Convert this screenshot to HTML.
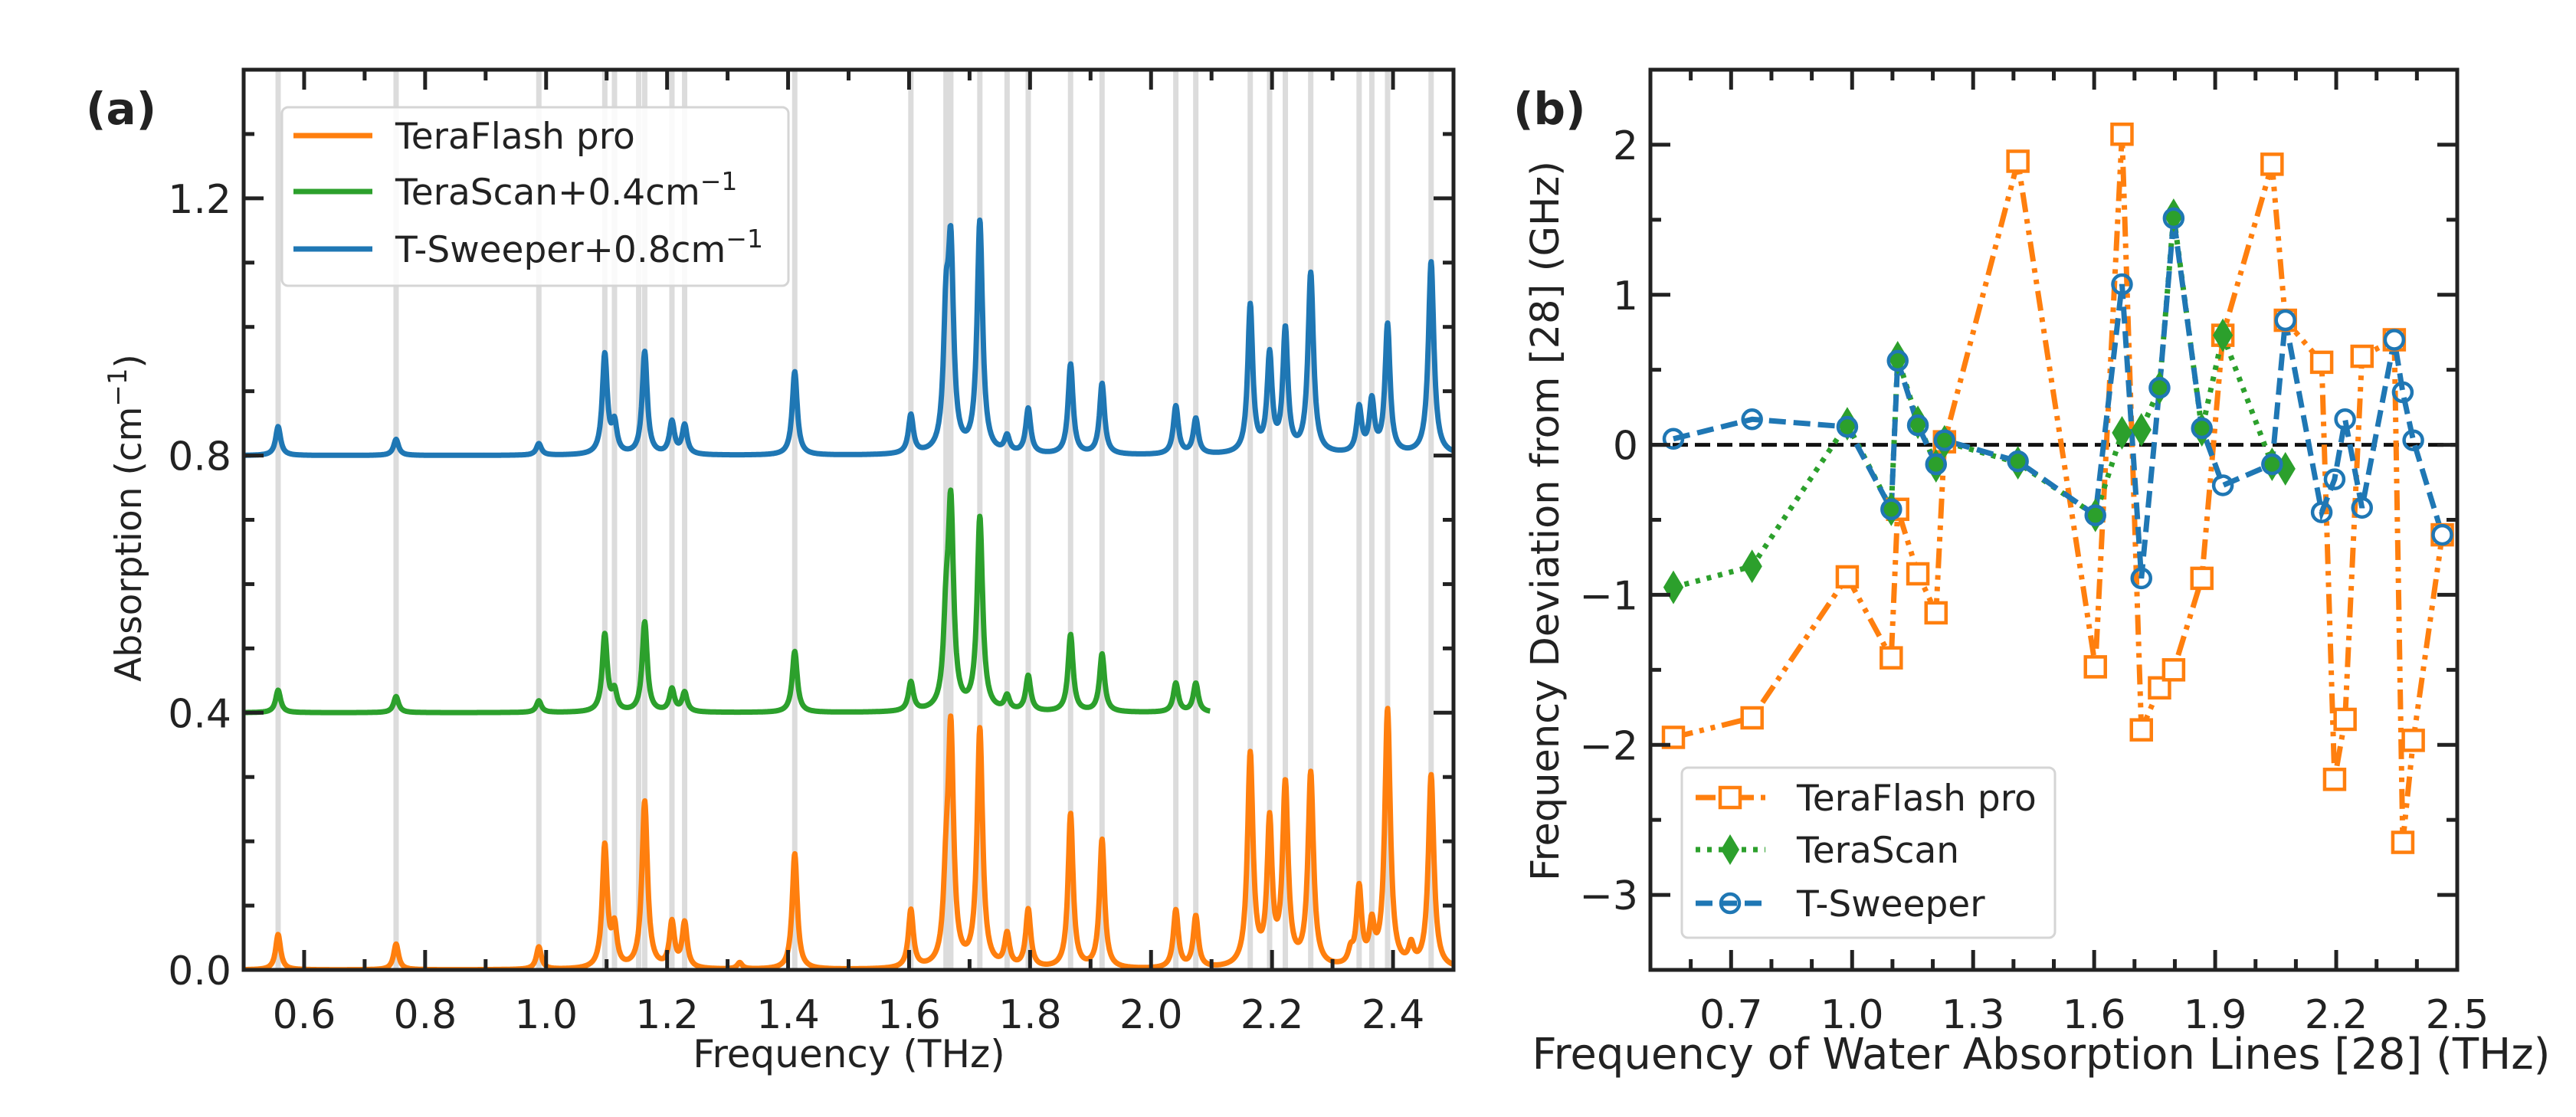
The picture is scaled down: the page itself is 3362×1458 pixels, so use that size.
<!DOCTYPE html>
<html><head><meta charset="utf-8">
<style>
html,body{margin:0;padding:0;background:#fff;}
svg{display:block;font-family:"DejaVu Sans","Liberation Sans",sans-serif;}
</style></head>
<body>
<svg id="fig" width="3362" height="1458" viewBox="0 0 3362 1458" xmlns="http://www.w3.org/2000/svg">
<rect width="3362" height="1458" fill="#fff"/>
<g id="pa"></g>
<g id="pb"></g>
</svg>
<script>
// ---------- Panel (a) data ----------
const waterLines = [0.557,0.752,0.988,1.097,1.113,1.153,1.163,1.208,1.229,1.411,1.603,1.661,1.669,1.717,1.762,1.797,1.867,1.919,2.041,2.074,2.164,2.196,2.222,2.264,2.344,2.365,2.391,2.463];
const tfPeakFreqs = [0.557,0.752,0.988,1.097,1.113,1.163,1.208,1.229,1.32,1.411,1.603,1.661,1.669,1.717,1.762,1.797,1.867,1.919,2.041,2.074,2.164,2.196,2.222,2.264,2.33,2.344,2.365,2.391,2.43,2.463];
const tfPeakHeights = [0.055,0.04,0.035,0.19,0.06,0.26,0.07,0.07,0.01,0.18,0.09,0.1,0.36,0.37,0.05,0.09,0.24,0.2,0.09,0.08,0.33,0.22,0.28,0.3,0.02,0.12,0.06,0.4,0.03,0.3];
const tsPeakFreqs = [0.557,0.752,0.988,1.097,1.113,1.163,1.208,1.229,1.411,1.603,1.661,1.669,1.717,1.762,1.797,1.867,1.919,2.041,2.074];
const tsPeakHeights = [0.035,0.025,0.018,0.12,0.03,0.14,0.035,0.03,0.095,0.045,0.11,0.31,0.3,0.022,0.055,0.12,0.09,0.045,0.045];
const swPeakFreqs = [0.557,0.752,0.988,1.097,1.113,1.163,1.208,1.229,1.411,1.603,1.661,1.669,1.717,1.762,1.797,1.867,1.919,2.041,2.074,2.164,2.196,2.222,2.264,2.344,2.365,2.391,2.463];
const swPeakHeights = [0.045,0.025,0.018,0.155,0.045,0.16,0.05,0.045,0.13,0.06,0.18,0.3,0.36,0.025,0.07,0.14,0.11,0.075,0.055,0.23,0.15,0.19,0.28,0.07,0.08,0.2,0.3];
const offsetsA = [0, 0.4, 0.8];
const tsEnd = 2.098;
const xTicksA = ["0.6","0.8","1.0","1.2","1.4","1.6","1.8","2.0","2.2","2.4"];
const yTicksA = ["0.0","0.4","0.8","1.2"];

// ---------- Panel (b) data ----------
const linesB = [0.557,0.752,0.988,1.097,1.113,1.163,1.208,1.229,1.411,1.603,1.669,1.717,1.762,1.797,1.867,1.919,2.041,2.074,2.164,2.196,2.222,2.264,2.344,2.365,2.391,2.463];
const tfDev = [-1.95,-1.82,-0.88,-1.42,-0.43,-0.86,-1.12,0.02,1.89,-1.48,2.07,-1.90,-1.62,-1.50,-0.89,0.73,1.87,0.83,0.55,-2.23,-1.83,0.59,0.70,-2.65,-1.97,-0.60];
const tsLines = [0.557,0.752,0.988,1.097,1.113,1.163,1.208,1.229,1.411,1.603,1.669,1.717,1.762,1.797,1.867,1.919,2.041,2.074];
const tsDev = [-0.95,-0.81,0.14,-0.43,0.58,0.15,-0.14,0.02,-0.12,-0.47,0.08,0.10,0.38,1.53,0.10,0.73,-0.13,-0.16];
const swDev = [0.04,0.17,0.12,-0.43,0.56,0.13,-0.13,0.03,-0.11,-0.47,1.07,-0.89,0.38,1.51,0.11,-0.27,-0.13,0.83,-0.45,-0.23,0.17,-0.42,0.70,0.35,0.03,-0.60];
const xTicksB = ["0.7","1.0","1.3","1.6","1.9","2.2","2.5"];
const yTicksB = ["2","1","0","\u22121","\u22122","\u22123"];

const NS = "http://www.w3.org/2000/svg";
function mk(parent, tag, attrs, text){
  const e = document.createElementNS(NS, tag);
  for (const k in attrs) e.setAttribute(k, attrs[k]);
  if (text !== undefined) e.textContent = text;
  parent.appendChild(e); return e;
}
const ORANGE="#ff7f0e", GREEN="#2ca02c", BLUE="#1f77b4", INK="#222";
const FS=52, LS=47, LW=7;

// ===== Panel A =====
const A = {l:318, r:1897, t:91, b:1266, x0:0.5, x1:2.5, y0:0, y1:1.4};
const ax = v => A.l + (v-A.x0)/(A.x1-A.x0)*(A.r-A.l);
const ay = v => A.b - (v-A.y0)/(A.y1-A.y0)*(A.b-A.t);
const pa = document.getElementById('pa');
waterLines.forEach(f=>{
  const l = mk(pa,'line',{x1:ax(f),x2:ax(f),y1:A.t,y2:A.b,stroke:"#dcdcdc","stroke-width":7});
  
  
});
function spectrum(freqs, heights, off, xmax){
  let d="";
  for (let x=A.x0; x<=xmax+1e-9; x+=0.0008){
    let v=off;
    for (let i=0;i<freqs.length;i++){
      const g = heights[i]>0.25?0.0055:0.005;
      v += heights[i]*g*g/((x-freqs[i])*(x-freqs[i])+g*g);
    }
    d += (d?"L":"M")+ax(x).toFixed(1)+","+ay(v).toFixed(1);
  }
  return d;
}
const cp = mk(pa,'clipPath',{id:'clipA'}); mk(cp,'rect',{x:A.l,y:A.t,width:A.r-A.l,height:A.b-A.t});
const sg = mk(pa,'g',{'clip-path':'url(#clipA)'});
let p;
p = mk(sg,'path',{d:spectrum(swPeakFreqs,swPeakHeights,offsetsA[2],A.x1),fill:"none",stroke:BLUE,"stroke-width":LW,"stroke-linejoin":"round"});
 
p = mk(sg,'path',{d:spectrum(tsPeakFreqs,tsPeakHeights,offsetsA[1],tsEnd),fill:"none",stroke:GREEN,"stroke-width":LW,"stroke-linejoin":"round"});
 
p = mk(sg,'path',{d:spectrum(tfPeakFreqs,tfPeakHeights,offsetsA[0],A.x1),fill:"none",stroke:ORANGE,"stroke-width":LW,"stroke-linejoin":"round"});
 

function frame(g, B){
  const f = mk(g,'rect',{x:B.l,y:B.t,width:B.r-B.l,height:B.b-B.t,fill:"none",stroke:INK,"stroke-width":5});
   
}
function tickX(g,B,px,len){ mk(g,'line',{x1:px,x2:px,y1:B.b,y2:B.b-len,stroke:INK,"stroke-width":5}); mk(g,'line',{x1:px,x2:px,y1:B.t,y2:B.t+len,stroke:INK,"stroke-width":5}); }
function tickY(g,B,py,len){ mk(g,'line',{x1:B.l,x2:B.l+len,y1:py,y2:py,stroke:INK,"stroke-width":5}); mk(g,'line',{x1:B.r,x2:B.r-len,y1:py,y2:py,stroke:INK,"stroke-width":5}); }

frame(pa,A);
for (let i=0;i<=20;i++){ const v=0.5+i*0.1; tickX(pa,A,ax(v), (Math.round(v*10)%2===0)?26:14); }
for (let i=0;i<=14;i++){ const v=i*0.1; tickY(pa,A,ay(v), (i%4===0)?26:14); }
xTicksA.forEach(t=>{
  const e = mk(pa,'text',{x:ax(parseFloat(t)),y:1342,"font-size":FS,"text-anchor":"middle",fill:INK},t);
   
});
yTicksA.forEach(t=>{
  const e = mk(pa,'text',{x:302,y:ay(parseFloat(t))+19,"font-size":FS,"text-anchor":"end",fill:INK},t);
   
});
let e;
e = mk(pa,'text',{x:1108,y:1393,"font-size":50,"text-anchor":"middle",fill:INK},"Frequency (THz)");
 
e = mk(pa,'text',{x:0,y:0,"font-size":47,"text-anchor":"middle",fill:INK,transform:"translate(184,676) rotate(-90)"});
 
e.innerHTML = 'Absorption (cm<tspan dy="-19" font-size="34">\u22121</tspan><tspan dy="19">)</tspan>';
e = mk(pa,'text',{x:112,y:162,"font-size":58,"font-weight":"bold",fill:INK},"(a)");
 
// legend A
const lgA = mk(pa,'g',{});
 
mk(lgA,'rect',{x:368,y:140,width:661,height:233,rx:8,fill:"#fff","fill-opacity":0.85,stroke:"#d5d5d5","stroke-width":3});
[["TeraFlash pro",ORANGE,177,""],["TeraScan+0.4cm",GREEN,250,"\u22121"],["T-Sweeper+0.8cm",BLUE,325,"\u22121"]].forEach(r=>{
  const g = mk(lgA,'g',{});
   
  mk(g,'line',{x1:383,x2:486,y1:r[2],y2:r[2],stroke:r[1],"stroke-width":LW});
  const t = mk(g,'text',{x:516,y:r[2]+17,"font-size":LS,fill:INK});
  t.innerHTML = r[0] + (r[3]?'<tspan dy="-19" font-size="33">'+r[3]+'</tspan>':'');
});

// ===== Panel B =====
const B = {l:2154, r:3207, t:91, b:1266, x0:0.5, x1:2.5, y0:-3.5, y1:2.5};
const bx = v => B.l + (v-B.x0)/(B.x1-B.x0)*(B.r-B.l);
const by = v => B.b - (v-B.y0)/(B.y1-B.y0)*(B.b-B.t);
const pb = document.getElementById('pb');
e = mk(pb,'line',{x1:B.l,x2:B.r,y1:by(0),y2:by(0),stroke:"#111","stroke-width":5,"stroke-dasharray":"20,9"});
 
function poly(xs, ys){ return xs.map((x,i)=>(i?"L":"M")+bx(x).toFixed(1)+","+by(ys[i]).toFixed(1)).join(""); }
p = mk(pb,'path',{d:poly(linesB,tfDev),fill:"none",stroke:ORANGE,"stroke-width":LW,"stroke-dasharray":"26,9,6,9,6,9"});
 
p = mk(pb,'path',{d:poly(tsLines,tsDev),fill:"none",stroke:GREEN,"stroke-width":LW,"stroke-dasharray":"6,9"});
 
p = mk(pb,'path',{d:poly(linesB,swDev),fill:"none",stroke:BLUE,"stroke-width":LW,"stroke-dasharray":"22,10"});
 
linesB.forEach((x,i)=>{
  const m = mk(pb,'rect',{x:bx(x)-13,y:by(tfDev[i])-13,width:26,height:26,fill:"#fff",stroke:ORANGE,"stroke-width":4.5});
   
});
tsLines.forEach((x,i)=>{
  const cx=bx(x), cy=by(tsDev[i]);
  const m = mk(pb,'polygon',{points:`${cx},${cy-20} ${cx+12},${cy} ${cx},${cy+20} ${cx-12},${cy}`,fill:GREEN,stroke:GREEN,"stroke-width":2});
   
});
linesB.forEach((x,i)=>{
  const m = mk(pb,'circle',{cx:bx(x),cy:by(swDev[i]),r:12,fill:"none",stroke:BLUE,"stroke-width":4.5});
   
});
frame(pb,B);
for (let i=0;i<=20;i++){ const v=0.5+i*0.1; tickX(pb,B,bx(v), ((i-2)%3===0)?26:14); }
for (let i=0;i<=12;i++){ const v=-3.5+i*0.5; tickY(pb,B,by(v), (i%2===1)?26:14); }
xTicksB.forEach(t=>{
  e = mk(pb,'text',{x:bx(parseFloat(t)),y:1342,"font-size":FS,"text-anchor":"middle",fill:INK},t);
   
});
yTicksB.forEach(t=>{
  e = mk(pb,'text',{x:2138,y:by(parseFloat(t.replace("\u2212","-")))+19,"font-size":FS,"text-anchor":"end",fill:INK},t);
   
});
e = mk(pb,'text',{x:2664,y:1395,"font-size":56,"text-anchor":"middle",fill:INK},"Frequency of Water Absorption Lines [28] (THz)");
 
e = mk(pb,'text',{x:0,y:0,"font-size":51,"text-anchor":"middle",fill:INK,transform:"translate(2034,680) rotate(-90)"},"Frequency Deviation from [28] (GHz)");
 
e = mk(pb,'text',{x:1975,y:162,"font-size":58,"font-weight":"bold",fill:INK},"(b)");
 
const lgB = mk(pb,'g',{});
 
mk(lgB,'rect',{x:2195,y:1002,width:487,height:222,rx:8,fill:"#fff","fill-opacity":0.85,stroke:"#d5d5d5","stroke-width":3});
const legB = [["TeraFlash pro",ORANGE,1041,"26,9,6,9","sq"],["TeraScan",GREEN,1109,"6,9","di"],["T-Sweeper",BLUE,1179,"22,10","ci"]];
legB.forEach(r=>{
  const g = mk(lgB,'g',{});
   
  mk(g,'line',{x1:2213,x2:2304,y1:r[2],y2:r[2],stroke:r[1],"stroke-width":LW,"stroke-dasharray":r[3]});
  const cx=2258, cy=r[2];
  if (r[4]==="sq") mk(g,'rect',{x:cx-13,y:cy-13,width:26,height:26,fill:"#fff",stroke:r[1],"stroke-width":4.5});
  else if (r[4]==="di") mk(g,'polygon',{points:`${cx},${cy-20} ${cx+12},${cy} ${cx},${cy+20} ${cx-12},${cy}`,fill:r[1]});
  else mk(g,'circle',{cx:cx,cy:cy,r:12,fill:"none",stroke:r[1],"stroke-width":4.5});
  mk(g,'text',{x:2345,y:r[2]+17,"font-size":LS,fill:INK},r[0]);
});
</script>
</body></html>
